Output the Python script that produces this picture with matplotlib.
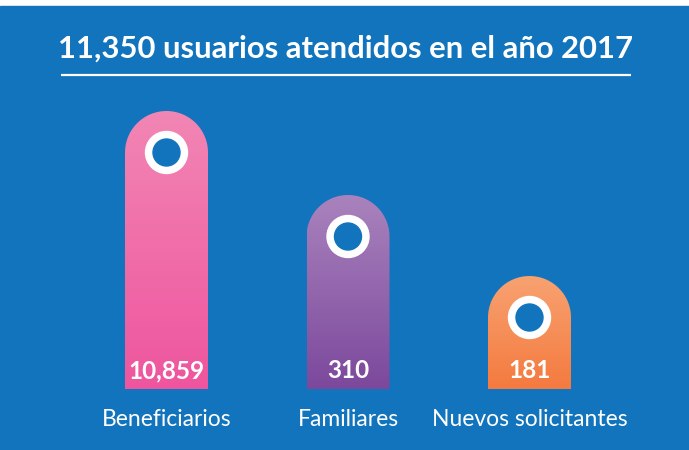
import numpy as np
import matplotlib
matplotlib.use("Agg")
import matplotlib.pyplot as plt
from matplotlib.path import Path
from matplotlib.patches import PathPatch, Circle
from matplotlib.colors import LinearSegmentedColormap

# ---- data ----
title = "11,350 usuarios atendidos en el año 2017"
categories = ["Beneficiarios", "Familiares", "Nuevos solicitantes"]
values = [10859, 310, 181]
value_labels = ["10,859", "310", "181"]
# decorative display heights of the infographic bars (pixels, not proportional)
display_heights = [278, 194, 113]

# ---- styles ----
BG = "#1174BC"
top_colors = ["#F286B4", "#A983BD", "#F8A271"]
bottom_colors = ["#EE559E", "#7C489C", "#F47A3F"]
FONT = "Lato"

W, H = 689, 450
fig = plt.figure(figsize=(W / 100, H / 100), dpi=100)
fig.patch.set_facecolor("white")
ax = fig.add_axes([0, 0, 1, 1])
ax.set_xlim(0, W)
ax.set_ylim(0, H)
ax.axis("off")

# blue panel (white strip at very top)
ax.add_patch(plt.Rectangle((0, 0), W, H - 6, color=BG, zorder=0))

x0, spacing, bw, base = 166.5, 181.5, 83, 61
centers = x0 + spacing * np.arange(len(categories))
r = bw / 2
heights = np.array(display_heights, dtype=float)

bars = ax.bar(centers, heights - r, bottom=base, width=bw, color="none",
              edgecolor="none", zorder=1)

for i, b in enumerate(bars):
    bx, by, w, h = b.get_x(), b.get_y(), b.get_width(), b.get_height()
    cx, cy = bx + w / 2, by + h
    theta = np.linspace(0, np.pi, 60)
    arc = np.column_stack([cx + r * np.cos(theta), cy + r * np.sin(theta)])
    verts = np.vstack([[bx + w, by], [bx + w, cy], arc, [bx, by], [bx + w, by]])
    codes = [Path.MOVETO] + [Path.LINETO] * (len(verts) - 2) + [Path.CLOSEPOLY]
    patch = PathPatch(Path(verts, codes), facecolor="none", edgecolor="none", zorder=1)
    ax.add_patch(patch)
    cmap = LinearSegmentedColormap.from_list(f"g{i}", [bottom_colors[i], top_colors[i]])
    grad = np.linspace(0, 1, 256).reshape(-1, 1)
    im = ax.imshow(grad, cmap=cmap, origin="lower", aspect="auto",
                   extent=[bx, bx + w, by, cy + r], zorder=1, interpolation="bilinear")
    im.set_clip_path(patch)
    # ring
    ax.add_patch(Circle((cx, cy), 21, color="white", zorder=2))
    ax.add_patch(Circle((cx, cy), 13.5, color=BG, zorder=3))
    # value label
    ax.text(cx, base + 18, value_labels[i], ha="center", va="center", color="white",
            fontsize=17.5, fontweight="bold", family=FONT, zorder=4)
    # category label
    ax.text(cx, 31, categories[i], ha="center", va="center", color="white",
            fontsize=16.5, family=FONT, zorder=4)

# title and underline
ax.text(346, 401, title, ha="center", va="center", color="white", fontsize=22.3,
        fontweight="bold", family=FONT, zorder=4)
ax.plot([61, 631], [375, 375], color="white", lw=1.6, solid_capstyle="butt", zorder=4)

ax.set_xlim(0, W)
ax.set_ylim(0, H)
fig.savefig("out.png", dpi=100, facecolor=fig.get_facecolor())
